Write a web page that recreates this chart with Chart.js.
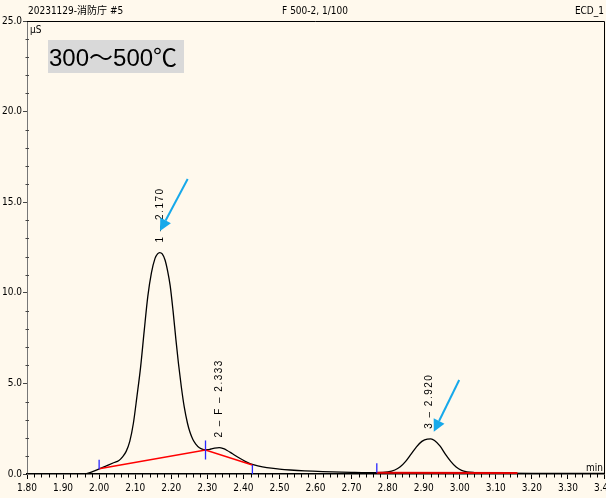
<!DOCTYPE html>
<html>
<head>
<meta charset="utf-8">
<script src="https://cdn.jsdelivr.net/npm/chart.js@4/dist/chart.umd.min.js"></script>
<style>
  html, body { margin: 0; padding: 0; background: #fff9ed; }
</style>
</head>
<body>
<canvas id="chart" width="606" height="498"></canvas>
<script>
// ECD chromatogram, 300-500 C fraction
const times = [1.80, 1.90, 1.95, 1.965, 1.98, 2.00, 2.02, 2.04, 2.055, 2.065, 2.075, 2.085, 2.095,
  2.105, 2.115, 2.125, 2.135, 2.145, 2.155, 2.162, 2.168, 2.175, 2.183, 2.19, 2.197, 2.205,
  2.213, 2.22, 2.228, 2.236, 2.245, 2.252, 2.26, 2.268, 2.278, 2.29, 2.30, 2.31, 2.32, 2.333,
  2.345, 2.355, 2.365, 2.375, 2.39, 2.405, 2.42, 2.44, 2.465, 2.50, 2.53, 2.57, 2.62, 2.70,
  2.77, 2.80, 2.82, 2.835, 2.85, 2.865, 2.88, 2.895, 2.91, 2.92, 2.93, 2.945, 2.96, 2.975,
  2.99, 3.005, 3.02, 3.04, 3.07, 3.12, 3.20, 3.40];
const signal = [0, 0, 0, 0.02, 0.12, 0.28, 0.45, 0.62, 0.75, 0.95, 1.25, 1.8, 2.8,
  4.3, 5.9, 7.9, 9.8, 11.1, 11.9, 12.15, 12.22, 12.15, 11.8, 11.2, 10.4, 9.0,
  7.4, 6.1, 4.8, 3.7, 2.8, 2.3, 1.9, 1.65, 1.45, 1.35, 1.34, 1.38, 1.43, 1.46,
  1.40, 1.30, 1.18, 1.05, 0.87, 0.70, 0.56, 0.45, 0.35, 0.27, 0.22, 0.17, 0.13, 0.09,
  0.07, 0.11, 0.22, 0.40, 0.70, 1.10, 1.50, 1.80, 1.93, 1.94, 1.85, 1.55, 1.10, 0.70,
  0.38, 0.20, 0.12, 0.08, 0.06, 0.05, 0.04, 0.03];

// integration baselines
const base1Times = [2.00, 2.295, 2.425];
const base1Values = [0.29, 1.32, 0.50];
const base2Times = [2.77, 3.16];
const base2Values = [0.07, 0.05];

// peak start/end markers
const markTimes = [2.00, 2.295, 2.425, 2.77];
const markLow = [0.26, 0.80, 0.0, 0.07];
const markHigh = [0.78, 1.85, 0.5, 0.6];

// peak labels
const peakTimes = [2.169, 2.332, 2.915];
const peakHeights = [12.22, 1.46, 1.94];
const peakLabels = ["1 \u2013 2.170", "2 \u2013 F \u2013 2.333", "3 \u2013 2.920"];

// blue arrows [time, value]
const arrowFrom = [[2.2455, 16.28], [2.9985, 5.19]];
const arrowTo = [[2.1687, 13.41], [2.928, 2.33]];

const narrow = '"Liberation Sans Narrow", "DejaVu Sans Condensed", "Noto Sans CJK JP", sans-serif';
const ctx = document.querySelector("#chart").getContext("2d");

function toPoints(xs, ys) {
  return xs.map((x, i) => ({ x, y: ys[i] }));
}

const markerSets = markTimes.map((t, i) => ({
  type: "line",
  data: [{ x: t, y: markLow[i] }, { x: t, y: markHigh[i] }],
  borderColor: "#2828ff",
  borderWidth: 1.3,
  pointRadius: 0,
  clip: false,
}));

const extras = {
  id: "extras",
  afterDraw(chart) {
    const c = chart.ctx;
    const xs = chart.scales.x;
    const ys = chart.scales.y;
    const a = chart.chartArea;
    c.save();

    // frame top and right
    c.strokeStyle = "#000";
    c.lineWidth = 1;
    c.beginPath();
    c.moveTo(a.left, a.top + 0.5);
    c.lineTo(a.right + 0.5, a.top + 0.5);
    c.lineTo(a.right + 0.5, a.bottom);
    c.stroke();

    // minor ticks
    c.beginPath();
    for (let i = 0; i <= 80; i++) {
      if (i % 5 === 0) continue;
      const px = Math.round(xs.getPixelForValue(1.8 + i * 0.02)) + 0.5;
      c.moveTo(px, a.bottom);
      c.lineTo(px, a.bottom + 3.5);
    }
    c.stroke();
    c.strokeStyle = "#444";
    c.beginPath();
    for (let i = 1; i < 25; i++) {
      if (i % 5 === 0) continue;
      const py = Math.round(ys.getPixelForValue(i)) + 0.5;
      c.moveTo(a.left - 1.5, py);
      c.lineTo(a.left + 2, py);
    }
    c.stroke();

    // header texts
    c.fillStyle = "#000";
    c.font = "10px " + narrow;
    c.textBaseline = "alphabetic";
    c.textAlign = "left";
    c.fillText("20231129-消防庁 #5", 28, 14);
    c.fillText("\u03bcS", 30, 33);
    c.textAlign = "center";
    c.fillText("F 500-2, 1/100", 315, 14);
    c.textAlign = "right";
    c.fillText("ECD_1", 604, 14);
    c.fillText("min", 603, 471);

    // peak labels (rotated)
    c.font = '10px "Liberation Sans", Arial, sans-serif';
    c.letterSpacing = "1.5px";
    c.fillStyle = "#000";
    c.textAlign = "left";
    c.textBaseline = "middle";
    peakTimes.forEach((t, i) => {
      c.save();
      c.translate(xs.getPixelForValue(t), ys.getPixelForValue(peakHeights[i]) - 10);
      c.rotate(-Math.PI / 2);
      c.fillText(peakLabels[i], 0, 0);
      c.restore();
    });
    c.letterSpacing = "0px";

    // arrows
    c.strokeStyle = "#17a9ea";
    c.fillStyle = "#17a9ea";
    c.lineWidth = 2;
    arrowFrom.forEach((f, i) => {
      const x0 = xs.getPixelForValue(f[0]);
      const y0 = ys.getPixelForValue(f[1]);
      const x1 = xs.getPixelForValue(arrowTo[i][0]);
      const y1 = ys.getPixelForValue(arrowTo[i][1]);
      const ang = Math.atan2(y1 - y0, x1 - x0);
      const len = 12;
      const bx = x1 - len * Math.cos(ang);
      const by = y1 - len * Math.sin(ang);
      c.beginPath();
      c.moveTo(x0, y0);
      c.lineTo(bx, by);
      c.stroke();
      c.beginPath();
      c.moveTo(x1, y1);
      c.lineTo(bx + 6 * Math.sin(ang), by - 6 * Math.cos(ang));
      c.lineTo(bx - 6 * Math.sin(ang), by + 6 * Math.cos(ang));
      c.closePath();
      c.fill();
    });

    // temperature box
    c.fillStyle = "#d9d9d9";
    c.fillRect(48, 40, 136, 33);
    c.fillStyle = "#000";
    c.font = '24px "Liberation Sans", Arial, "Noto Sans CJK JP", sans-serif';
    c.textAlign = "left";
    c.textBaseline = "alphabetic";
    c.fillText("300～500℃", 49, 66);

    c.restore();
  },
};

const chart = new Chart(ctx, {
  type: "line",
  data: {
    datasets: [
      ...markerSets,
      {
        data: toPoints(base1Times, base1Values),
        borderColor: "#ff0000",
        borderWidth: 1.5,
        pointRadius: 0,
      },
      {
        data: toPoints(base2Times, base2Values),
        borderColor: "#e00000",
        borderWidth: 2,
        pointRadius: 0,
      },
      {
        data: toPoints(times, signal),
        borderColor: "#000",
        borderWidth: 1.3,
        pointRadius: 0,
        cubicInterpolationMode: "monotone",
      },
    ],
  },
  options: {
    responsive: false,
    animation: false,
    layout: { padding: { top: 21, right: 2, left: 0, bottom: 0 } },
    plugins: { legend: { display: false }, tooltip: { enabled: false } },
    scales: {
      x: {
        type: "linear",
        min: 1.8,
        max: 3.4,
        grid: { drawOnChartArea: false, tickLength: 5, color: "#000" },
        border: { color: "#000", width: 1.5 },
        ticks: {
          stepSize: 0.1,
          autoSkip: false,
          maxRotation: 0,
          padding: 3,
          color: "#000",
          font: { family: narrow, size: 10 },
          callback: (v) => v.toFixed(2),
        },
        afterFit(s) {
          s.height = 24;
          s.paddingLeft = 0;
          s.paddingRight = 0;
        },
      },
      y: {
        min: 0,
        max: 25,
        grid: { drawOnChartArea: false, tickLength: 4, color: "#444" },
        border: { color: "#777", width: 1 },
        ticks: {
          stepSize: 5,
          padding: 1,
          color: "#000",
          font: { family: narrow, size: 10 },
          callback: (v) => v.toFixed(1),
        },
        afterFit(s) {
          s.width = 27;
          s.paddingTop = 0;
          s.paddingBottom = 0;
        },
      },
    },
  },
  plugins: [extras],
});
</script>
</body>
</html>
